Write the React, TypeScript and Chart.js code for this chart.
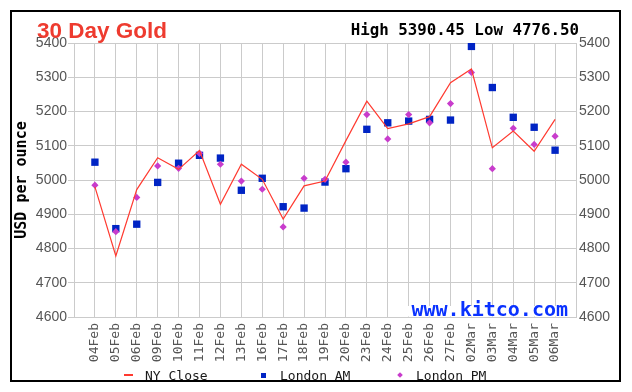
import React, { useEffect, useRef } from 'react';
import { Chart, registerables } from 'chart.js';

Chart.register(...registerables);

const dates = ['04Feb', '05Feb', '06Feb', '09Feb', '10Feb', '11Feb', '12Feb', '13Feb', '16Feb', '17Feb', '18Feb', '19Feb', '20Feb', '23Feb', '24Feb', '25Feb', '26Feb', '27Feb', '02Mar', '03Mar', '04Mar', '05Mar', '06Mar'];
const nyClose = [4980, 4778, 4972, 5065, 5031, 5086, 4929, 5046, 5002, 4886, 4983, 4997, 5115, 5230, 5150, 5164, 5185, 5284, 5324, 5094, 5143, 5084, 5177];
const londonAM = [5052, 4858, 4871, 4993, 5049, 5072, 5064, 4970, 5005, 4922, 4918, 4994, 5033, 5148, 5167, 5172, 5177, 5175, 5390, 5270, 5183, 5154, 5087];
const londonPM = [4985, 4849, 4949, 5041, 5034, 5078, 5046, 4997, 4973, 4863, 5005, 5002, 5052, 5191, 5120, 5191, 5167, 5223, 5314, 5033, 5151, 5104, 5128];
const yMin = 4600;
const yMax = 5400;
const yStep = 100;
const titleText = '30 Day Gold';
const highLowText = 'High 5390.45 Low 4776.50';
const yTitle = 'USD per ounce';
const watermark = 'www.kitco.com';
const seriesNames = ['NY Close', 'London AM', 'London PM'];

const RED = '#ff3a30';
const BLUE = '#0024c4';
const MAGENTA = '#c83ccc';
const GRID = '#cbcbcb';
const MONO = '"DejaVu Sans Mono", monospace';
const SANS = '"Liberation Sans", Arial, sans-serif';

const watermarkPlugin = {
  id: 'kitcoWatermark',
  beforeDatasetsDraw(chart: any) {
    const { ctx, chartArea } = chart;
    ctx.save();
    ctx.font = 'bold 20px ' + MONO;
    const w = ctx.measureText(watermark).width;
    const right = chartArea.right - 8;
    ctx.fillStyle = '#ffffff';
    ctx.fillRect(right - w - 4, chartArea.bottom - 11, w + 11, 10.5);
    ctx.fillStyle = '#0a32ff';
    ctx.textBaseline = 'alphabetic';
    ctx.textAlign = 'left';
    ctx.fillText(watermark, right - w, chartArea.bottom - 1.5);
    ctx.restore();
  },
};

function ChartCanvas() {
  const ref = useRef<HTMLCanvasElement | null>(null);
  useEffect(() => {
    if (!ref.current) return;
    const toPts = (arr: number[]) => arr.map((v, i) => ({ x: i, y: v }));
    const chart = new Chart(ref.current, {
      type: 'line',
      data: {
        datasets: [
          {
            label: seriesNames[0],
            data: toPts(nyClose),
            borderColor: RED,
            backgroundColor: RED,
            borderWidth: 1.2,
            pointRadius: 0,
            tension: 0,
            order: 0,
          },
          {
            label: seriesNames[1],
            data: toPts(londonAM),
            showLine: false,
            pointStyle: 'rect',
            pointRadius: 5.2,
            pointBorderWidth: 0,
            pointBackgroundColor: BLUE,
            borderColor: BLUE,
            order: 2,
          },
          {
            label: seriesNames[2],
            data: toPts(londonPM),
            showLine: false,
            pointStyle: 'rectRot',
            pointRadius: 3.6,
            pointBorderWidth: 0,
            pointBackgroundColor: MAGENTA,
            borderColor: MAGENTA,
            order: 1,
          },
        ],
      },
      options: {
        animation: false,
        responsive: false,
        devicePixelRatio: 1,
        layout: { padding: { top: 43, left: 0, right: 0, bottom: 0 } },
        plugins: {
          legend: { display: false },
          title: { display: false },
          tooltip: { enabled: false },
        },
        scales: {
          x: {
            type: 'linear',
            position: 'bottom',
            min: -1,
            max: dates.length,
            grid: { color: GRID, lineWidth: 1, drawTicks: false },
            border: { color: GRID },
            ticks: {
              stepSize: 1,
              autoSkip: false,
              minRotation: 90,
              maxRotation: 90,
              padding: 6,
              color: '#555',
              font: { family: MONO, size: 13 },
              callback: (v: any) => (dates[v] !== undefined ? dates[v] : ''),
            },
            afterFit: (s: any) => {
              s.height = 75;
            },
          },
          y: {
            type: 'linear',
            position: 'left',
            min: yMin,
            max: yMax,
            grid: { color: GRID, lineWidth: 1, tickLength: 6 },
            border: { color: GRID },
            ticks: {
              stepSize: yStep,
              padding: 1,
              color: '#555',
              font: { family: SANS, size: 14 },
              callback: (v: any) => String(v),
            },
            title: {
              display: true,
              text: yTitle,
              color: '#000',
              font: { family: MONO, size: 15, weight: 'bold' },
              padding: { top: 13, bottom: 0 },
            },
            afterFit: (s: any) => {
              s.width = 74;
            },
          },
          y1: {
            type: 'linear',
            position: 'right',
            min: yMin,
            max: yMax,
            grid: { drawOnChartArea: false, drawTicks: false },
            border: { color: GRID },
            ticks: {
              stepSize: yStep,
              padding: 3,
              color: '#555',
              font: { family: SANS, size: 14 },
              callback: (v: any) => String(v),
            },
            afterFit: (s: any) => {
              s.width = 56;
            },
          },
        },
      },
      plugins: [watermarkPlugin],
    });
    return () => chart.destroy();
  }, []);
  return <canvas ref={ref} width={632} height={392} style={{ position: 'absolute', left: 0, top: 0 }} />;
}

export default function App() {
  const legendText: React.CSSProperties = {
    position: 'absolute',
    top: 369,
    fontFamily: MONO,
    fontSize: 13,
    lineHeight: 1,
    color: '#1a1a1a',
    whiteSpace: 'pre',
  };
  return (
    <div style={{ position: 'absolute', left: 0, top: 0, width: 632, height: 392, background: '#fff', overflow: 'hidden' }}>
      <div style={{ position: 'absolute', left: 10, top: 10, width: 607, height: 368, border: '2px solid #000' }} />
      <ChartCanvas />
      <span style={{ position: 'absolute', left: 37, top: 20, fontFamily: SANS, fontWeight: 'bold', fontSize: 22.5, lineHeight: 1, color: '#ee3b2f', whiteSpace: 'pre' }}>{titleText}</span>
      <span style={{ position: 'absolute', right: 53, top: 22, fontFamily: MONO, fontWeight: 'bold', fontSize: 15.8, lineHeight: 1, color: '#000', whiteSpace: 'pre' }}>{highLowText}</span>
      <div style={{ position: 'absolute', left: 124, top: 374, width: 9, height: 2, background: RED }} />
      <span style={{ ...legendText, left: 145 }}>{seriesNames[0]}</span>
      <div style={{ position: 'absolute', left: 261, top: 372.5, width: 5, height: 5, background: BLUE }} />
      <span style={{ ...legendText, left: 280 }}>{seriesNames[1]}</span>
      <div style={{ position: 'absolute', left: 397.5, top: 373, width: 4, height: 4, background: MAGENTA, transform: 'rotate(45deg)' }} />
      <span style={{ ...legendText, left: 416 }}>{seriesNames[2]}</span>
    </div>
  );
}
